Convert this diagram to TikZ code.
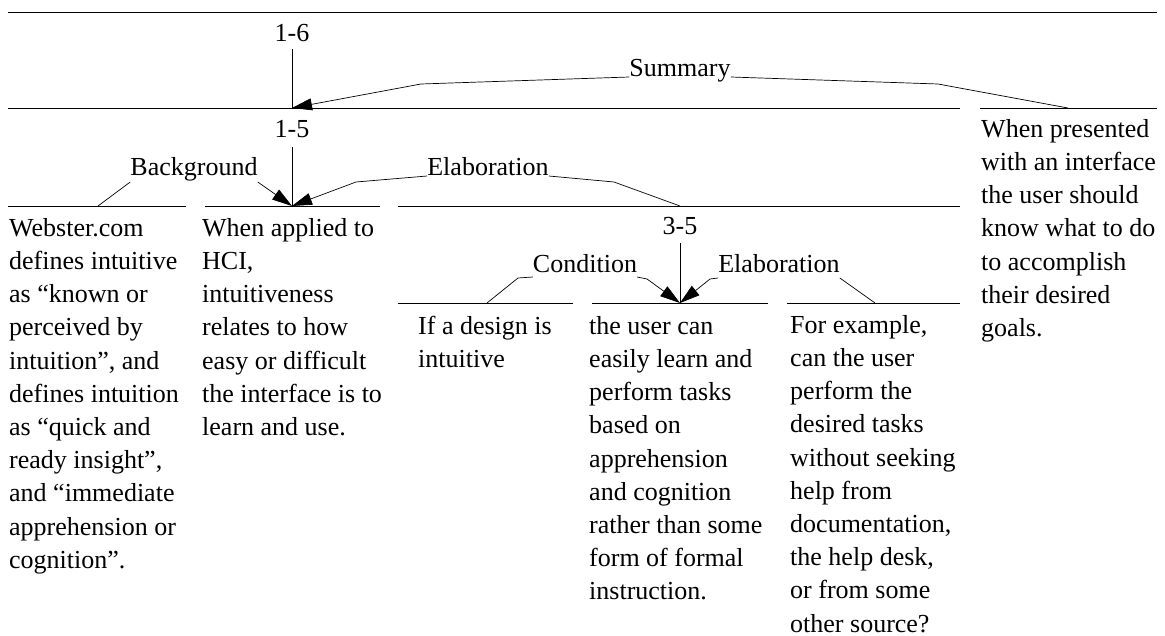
\documentclass[tikz,border=0pt]{standalone}
\usepackage{fontspec}
\setmainfont{Liberation Serif}
\usetikzlibrary{arrows.meta}
\begin{document}
\begin{tikzpicture}[x=1pt,y=-1pt,
  span/.style={line width=0.8pt},
  rel/.style={line width=0.7pt},
  nuc/.style={line width=0.7pt,-{Triangle[length=20pt,width=12pt]}},
  lbl/.style={inner sep=0pt,anchor=base,font=\fontsize{26}{33.2}\selectfont},
  seg/.style={inner sep=0pt,anchor=north west,align=left,font=\fontsize{26}{33.2}\selectfont}]
\useasboundingbox (0,0) rectangle (1165,636);

% span lines
\coordinate (s0a) at (8,12);    \coordinate (s0b) at (1157,12);
\coordinate (s1a) at (8,108);   \coordinate (s1b) at (960,108);
\coordinate (s1c) at (980,108); \coordinate (s1d) at (1157,108);
\coordinate (s2a) at (8,206);   \coordinate (s2b) at (186,206);
\coordinate (s2c) at (205,206); \coordinate (s2d) at (380,206);
\coordinate (s2e) at (398,206); \coordinate (s2f) at (960,206);
\coordinate (s3a) at (398,303); \coordinate (s3b) at (573,303);
\coordinate (s3c) at (592,303); \coordinate (s3d) at (768,303);
\coordinate (s3e) at (787,303); \coordinate (s3f) at (960,303);
\draw[span] (s0a) -- (s0b);
\draw[span] (s1a) -- (s1b);  \draw[span] (s1c) -- (s1d);
\draw[span] (s2a) -- (s2b);  \draw[span] (s2c) -- (s2d);  \draw[span] (s2e) -- (s2f);
\draw[span] (s3a) -- (s3b);  \draw[span] (s3c) -- (s3d);  \draw[span] (s3e) -- (s3f);

% nucleus points and satellite attachment points
\coordinate (t16) at (292,108);
\coordinate (t15) at (292,206);
\coordinate (t35) at (680,303);
\coordinate (aSum) at (1068,108);
\coordinate (aBg) at (98,206);
\coordinate (aEl) at (680,206);
\coordinate (aCond) at (487,303);
\coordinate (aEl2) at (875,303);

% span labels
\node[lbl] (n16) at (292,42) {1-6};
\node[lbl] (n15) at (292,138) {1-5};
\node[lbl] (n35) at (680,235) {3-5};
\draw[rel] ([yshift=-7pt]n16.base) -- (t16);
\draw[rel] ([yshift=-9pt]n15.base) -- (t15);
\draw[rel] ([yshift=-8pt]n35.base) -- (t35);

% relation labels
\node[lbl] (rSum) at (680,77) {Summary};
\node[lbl] (rBg) at (194,176) {Background};
\node[lbl] (rEl) at (488,176) {Elaboration};
\node[lbl] (rCond) at (585,273) {Condition};
\node[lbl] (rEl2) at (779,273) {Elaboration};

% relation connectors
\draw[nuc] (rSum.base west) -- (421,84) -- (t16);
\draw[rel] (rSum.base east) -- (938,84) -- (aSum);
\draw[rel] ([yshift=-6pt]rBg.base west) -- (aBg);
\draw[nuc] ([yshift=-6pt]rBg.base east) -- (t15);
\draw[nuc] (rEl.base west) -- (356,182) -- (t15);
\draw[rel] (rEl.base east) -- (614,182) -- (aEl);
\draw[rel] ([yshift=-4pt]rCond.base west) -- (518,278) -- (aCond);
\draw[nuc] ([yshift=-4pt]rCond.base east) -- (647,279) -- (t35);
\draw[nuc] ([yshift=-5pt]rEl2.base west) -- (710,279) -- (t35);
\draw[rel] ([yshift=-5pt]rEl2.base east) -- (aEl2);

% text segments
\node[seg] (u1) at (9,218) {Webster.com\\defines intuitive\\as “known or\\perceived by\\intuition”, and\\defines intuition\\as “quick and\\ready insight”,\\and “immediate\\apprehension or\\cognition”.};
\node[seg] (u2) at (202,218) {When applied to\\HCI,\\intuitiveness\\relates to how\\easy or difficult\\the interface is to\\learn and use.};
\node[seg] (u3) at (418,316) {If a design is\\intuitive};
\node[seg] (u4) at (589,316) {the user can\\easily learn and\\perform tasks\\based on\\apprehension\\and cognition\\rather than some\\form of formal\\instruction.};
\node[seg] (u5) at (790,315) {For example,\\can the user\\perform the\\desired tasks\\without seeking\\help from\\documentation,\\the help desk,\\or from some\\other source?};
\node[seg] (u6) at (981,119) {When presented\\with an interface\\the user should\\know what to do\\to accomplish\\their desired\\goals.};
\end{tikzpicture}
\end{document}
